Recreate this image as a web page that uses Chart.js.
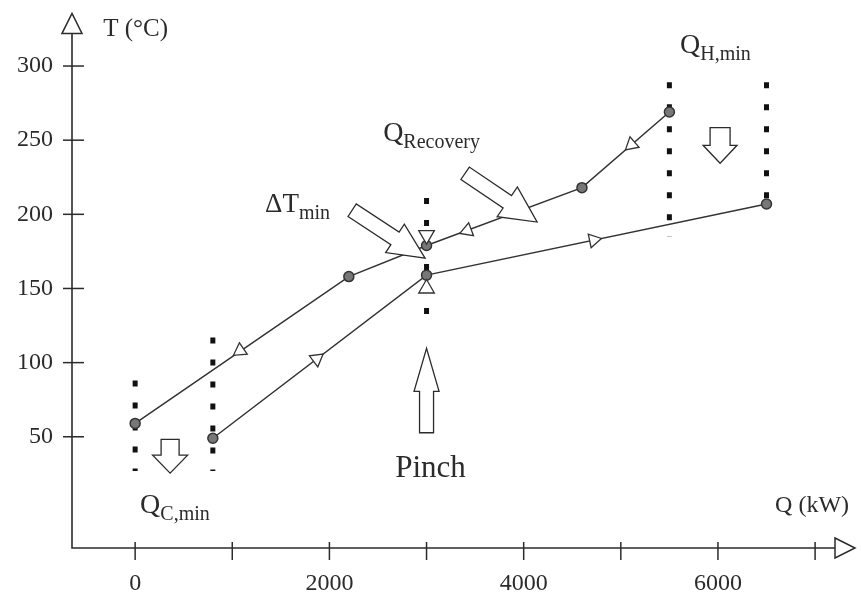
<!DOCTYPE html>
<html>
<head>
<meta charset="utf-8">
<script src="https://cdn.jsdelivr.net/npm/chart.js@4.4.0/dist/chart.umd.min.js"></script>
<style>
  html, body { margin: 0; padding: 0; background: #fff; }
</style>
</head>
<body>
<canvas id="myChart" width="861" height="595"></canvas>
<script>
// composite curves, Q in kW, T in degC
var hotQ = [0, 2200, 3000, 4600, 5500];
var hotT = [59, 158, 179, 218, 269];
var coldQ = [800, 3000, 6500];
var coldT = [49, 159, 207];

// open flow triangles sitting on the curves
var hotFlowQ = [1080, 3420, 5110];
var hotFlowT = [108, 189, 247];
var coldFlowQ = [1870, 4720];
var coldFlowT = [102.5, 182.6];

// pinch markers (down on hot side, up on cold side)
var pinchQ = [3000, 3000];
var pinchT = [186, 150];

// dotted vertical guides
var guideQ = [0, 800, 3000, 5500, 6500];
var guideTop = [88, 117, 211, 289, 289];
var guideBottom = [27, 27, 122, 185, 201];

var xTicks = [0, 1000, 2000, 3000, 4000, 5000, 6000, 7000];
var xLabels = [0, 2000, 4000, 6000];
var yTicks = [50, 100, 150, 200, 250, 300];

var ink = '#2b2b2b';
var serif = "'Liberation Serif', 'DejaVu Serif', serif";

function pts(qs, ts) {
  var out = [];
  for (var i = 0; i < qs.length; i++) out.push({ x: qs[i], y: ts[i] });
  return out;
}

function flowAngle(chart, qs, ts, q, reverse) {
  var xs = chart.scales.x, ys = chart.scales.y;
  if (!xs || !ys) return 0;
  var i = 0;
  for (; i < qs.length - 2; i++) {
    if (q <= qs[i + 1]) break;
  }
  var dx = xs.getPixelForValue(qs[i + 1]) - xs.getPixelForValue(qs[i]);
  var dy = ys.getPixelForValue(ts[i + 1]) - ys.getPixelForValue(ts[i]);
  if (reverse) { dx = -dx; dy = -dy; }
  var a = Math.atan2(dx, -dy) * 180 / Math.PI;
  return isFinite(a) ? a : 0;
}

// annotations, placed in data units
var blockArrows = [
  { from: [360, 48.3], to: [360, 25.5], shaft: 18, head: 35, headLen: 18 },
  { from: [6022, 258.4], to: [6022, 234.4], shaft: 20, head: 34, headLen: 18 },
  { from: [3000, 52.7], to: [3000, 109.6], shaft: 14, head: 25, headLen: 43 },
  { from: [2234, 202.8], to: [2985, 170.5], shaft: 15, head: 34, headLen: 36 },
  { from: [3397, 227.7], to: [4138, 194.8], shaft: 15, head: 36, headLen: 36 }
];

var texts = [
  { at: [-329, 320.5], text: 'T (°C)', size: 25 },
  { at: [6588, -0.8], text: 'Q (kW)', size: 24 },
  { at: [51, -1.5], text: 'Q', sub: 'C,min', size: 28, subSize: 20 },
  { at: [2677, 22.8], text: 'Pinch', size: 31 },
  { at: [5610, 309], text: 'Q', sub: 'H,min', size: 28, subSize: 20 },
  { at: [2553, 249.4], text: 'Q', sub: 'Recovery', size: 28, subSize: 20 },
  { at: [1338, 201.5], text: 'ΔT', sub: 'min', size: 27, subSize: 20 }
];

function blockArrow(ctx, x0, y0, x1, y1, w, hw, hl) {
  var len = Math.hypot(x1 - x0, y1 - y0);
  var ux = (x1 - x0) / len, uy = (y1 - y0) / len;
  var nx = -uy, ny = ux;
  var bx = x1 - ux * hl, by = y1 - uy * hl;
  ctx.beginPath();
  ctx.moveTo(x0 + nx * w / 2, y0 + ny * w / 2);
  ctx.lineTo(bx + nx * w / 2, by + ny * w / 2);
  ctx.lineTo(bx + nx * hw / 2, by + ny * hw / 2);
  ctx.lineTo(x1, y1);
  ctx.lineTo(bx - nx * hw / 2, by - ny * hw / 2);
  ctx.lineTo(bx - nx * w / 2, by - ny * w / 2);
  ctx.lineTo(x0 - nx * w / 2, y0 - ny * w / 2);
  ctx.closePath();
  ctx.fillStyle = '#fff';
  ctx.fill();
  ctx.lineWidth = 1.3;
  ctx.strokeStyle = ink;
  ctx.stroke();
}

var decor = {
  id: 'decor',
  afterDatasetsDraw: function(chart) {
    var ctx = chart.ctx, xs = chart.scales.x, ys = chart.scales.y;
    var area = chart.chartArea;
    ctx.save();
    ctx.strokeStyle = ink;
    ctx.lineWidth = 1.6;

    // axes
    ctx.beginPath();
    ctx.moveTo(area.left, area.top);
    ctx.lineTo(area.left, area.bottom);
    ctx.lineTo(area.right, area.bottom);
    ctx.stroke();

    // crossing tick marks
    ctx.lineWidth = 1.5;
    xs.ticks.forEach(function(t) {
      var px = xs.getPixelForValue(t.value);
      ctx.beginPath();
      ctx.moveTo(px, area.bottom - 6);
      ctx.lineTo(px, area.bottom + 12);
      ctx.stroke();
    });
    ys.ticks.forEach(function(t) {
      var py = ys.getPixelForValue(t.value);
      ctx.beginPath();
      ctx.moveTo(area.left - 9, py);
      ctx.lineTo(area.left + 12, py);
      ctx.stroke();
    });

    // open axis arrowheads
    ctx.fillStyle = '#fff';
    ctx.lineWidth = 1.5;
    ctx.beginPath();
    ctx.moveTo(area.left - 10, area.top);
    ctx.lineTo(area.left, area.top - 20);
    ctx.lineTo(area.left + 10, area.top);
    ctx.closePath();
    ctx.fill(); ctx.stroke();
    ctx.beginPath();
    ctx.moveTo(area.right, area.bottom - 10);
    ctx.lineTo(area.right + 20, area.bottom);
    ctx.lineTo(area.right, area.bottom + 10);
    ctx.closePath();
    ctx.fill(); ctx.stroke();

    blockArrows.forEach(function(a) {
      blockArrow(ctx,
        xs.getPixelForValue(a.from[0]), ys.getPixelForValue(a.from[1]),
        xs.getPixelForValue(a.to[0]), ys.getPixelForValue(a.to[1]),
        a.shaft, a.head, a.headLen);
    });

    ctx.fillStyle = ink;
    ctx.textBaseline = 'alphabetic';
    ctx.textAlign = 'left';
    texts.forEach(function(t) {
      var px = xs.getPixelForValue(t.at[0]), py = ys.getPixelForValue(t.at[1]);
      ctx.font = t.size + 'px ' + serif;
      ctx.fillText(t.text, px, py);
      if (t.sub) {
        var w = ctx.measureText(t.text).width;
        ctx.font = t.subSize + 'px ' + serif;
        ctx.fillText(t.sub, px + w, py + 7);
      }
    });
    ctx.restore();
  }
};

var datasets = [];
for (var g = 0; g < guideQ.length; g++) {
  datasets.push({
    data: [{ x: guideQ[g], y: guideTop[g] }, { x: guideQ[g], y: guideBottom[g] }],
    borderColor: '#111',
    borderWidth: 5,
    borderDash: [6, 16],
    borderCapStyle: 'butt',
    pointRadius: 0,
    order: 4
  });
}
datasets.push({
  label: 'Hot composite',
  data: pts(hotQ, hotT),
  borderColor: '#333',
  borderWidth: 1.5,
  pointRadius: 5,
  pointBackgroundColor: '#777',
  pointBorderColor: '#333',
  pointBorderWidth: 1.5,
  order: 3
});
datasets.push({
  label: 'Cold composite',
  data: pts(coldQ, coldT),
  borderColor: '#333',
  borderWidth: 1.5,
  pointRadius: 5,
  pointBackgroundColor: '#777',
  pointBorderColor: '#333',
  pointBorderWidth: 1.5,
  order: 3
});
datasets.push({
  type: 'scatter',
  data: pts(hotFlowQ, hotFlowT),
  pointStyle: 'triangle',
  pointRadius: 8,
  pointBackgroundColor: '#fff',
  pointBorderColor: '#333',
  pointBorderWidth: 1.3,
  pointRotation: function(c) {
    return flowAngle(c.chart, hotQ, hotT, hotFlowQ[c.dataIndex], true);
  },
  order: 1
});
datasets.push({
  type: 'scatter',
  data: pts(coldFlowQ, coldFlowT),
  pointStyle: 'triangle',
  pointRadius: 8,
  pointBackgroundColor: '#fff',
  pointBorderColor: '#333',
  pointBorderWidth: 1.3,
  pointRotation: function(c) {
    return flowAngle(c.chart, coldQ, coldT, coldFlowQ[c.dataIndex], false);
  },
  order: 1
});
datasets.push({
  type: 'scatter',
  data: pts(pinchQ, pinchT),
  pointStyle: 'triangle',
  pointRadius: 9,
  pointBackgroundColor: '#fff',
  pointBorderColor: '#333',
  pointBorderWidth: 1.3,
  pointRotation: [180, 0],
  order: 1
});

var myChart = new Chart(document.getElementById('myChart'), {
  type: 'line',
  data: { datasets: datasets },
  options: {
    responsive: false,
    animation: false,
    events: [],
    layout: { padding: { top: 33, right: 26, left: 0, bottom: 0 } },
    plugins: { legend: { display: false }, tooltip: { enabled: false } },
    scales: {
      x: {
        type: 'linear',
        min: -650,
        max: 7205,
        afterFit: function(s) { s.height = 47; },
        afterBuildTicks: function(s) { s.ticks = xTicks.map(function(v) { return { value: v }; }); },
        grid: { display: false, drawTicks: false },
        border: { display: false },
        ticks: {
          padding: 21,
          maxRotation: 0,
          autoSkip: false,
          color: ink,
          font: { family: serif, size: 24 },
          callback: function(v) { return xLabels.indexOf(v) >= 0 ? String(v) : ''; }
        }
      },
      y: {
        type: 'linear',
        min: -25,
        max: 322,
        afterFit: function(s) { s.width = 72; },
        afterBuildTicks: function(s) { s.ticks = yTicks.map(function(v) { return { value: v }; }); },
        grid: { display: false, drawTicks: false },
        border: { display: false },
        ticks: {
          padding: 19,
          autoSkip: false,
          color: ink,
          font: { family: serif, size: 24 },
          callback: function(v) { return String(v); }
        }
      }
    }
  },
  plugins: [decor]
});
</script>
</body>
</html>
